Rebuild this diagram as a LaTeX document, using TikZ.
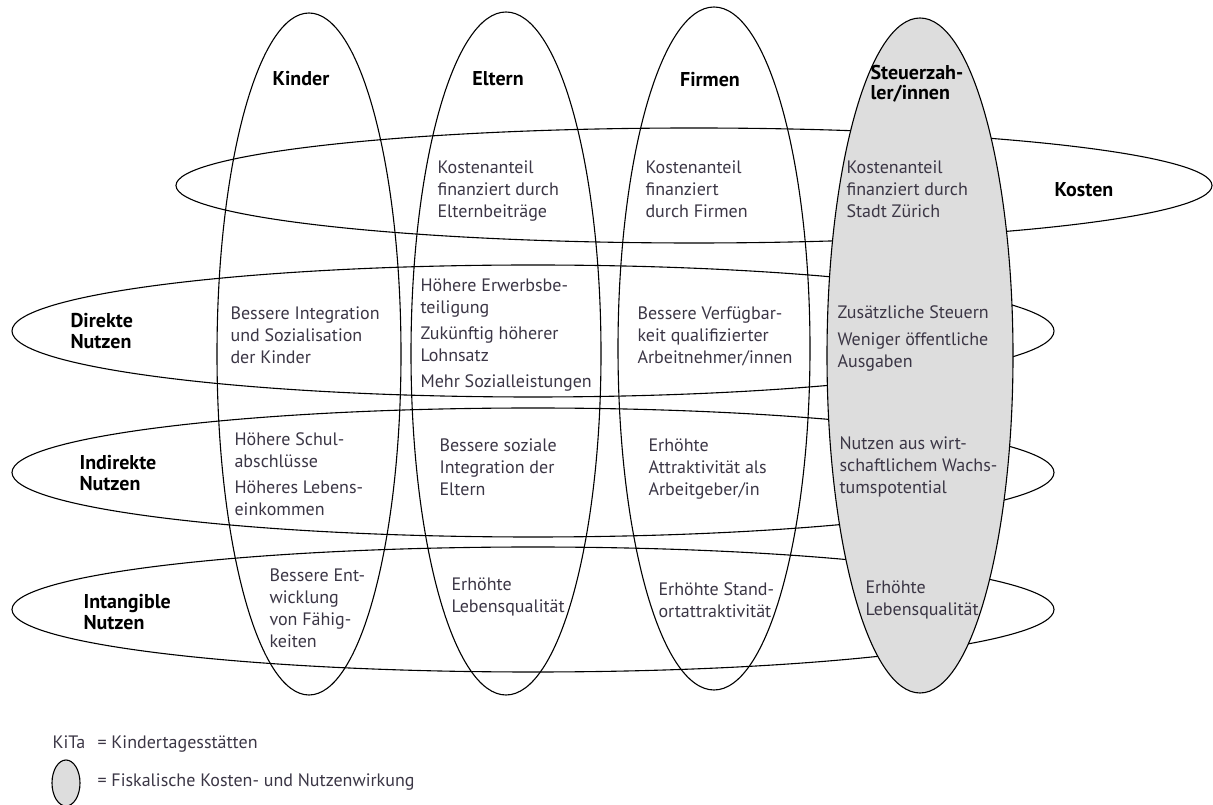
\documentclass[tikz,border=0pt]{standalone}
\usepackage{fontspec}
\setmainfont{PT Sans}
\usetikzlibrary{shapes.geometric}
\definecolor{fillcol}{rgb}{0.867,0.867,0.867}
\definecolor{textcol}{rgb}{0.23,0.21,0.27}
\begin{document}
\begin{tikzpicture}[line join=bevel,
    ring/.style={draw=black,ellipse,inner sep=0pt},
    fiscal/.style={ring,fill=fillcol},
    cell/.style={anchor=north west,inner sep=0pt,align=left,text=textcol,
      font=\fontsize{18bp}{22bp}\selectfont},
    head/.style={inner sep=0pt,align=left,text=black,
      font=\fontsize{20bp}{21bp}\selectfont\bfseries},
    legend/.style={anchor=base west,inner sep=0pt,text=textcol,
      font=\fontsize{18bp}{22bp}\selectfont},
  ]
  \pgfsetlinewidth{1.1bp}
  \useasboundingbox (0bp,0bp) rectangle (1213bp,805bp);
  %%
  % Node: kosten
  \node[ring,minimum width=1036bp,minimum height=115bp] (kosten) at (694bp,619.5bp) {};
  % Node: direkt
  \node[ring,minimum width=1042bp,minimum height=132bp] (direkt) at (533bp,474bp) {};
  % Node: indirekt
  \node[ring,minimum width=1042bp,minimum height=129bp] (indirekt) at (533bp,332.5bp) {};
  % Node: intang
  \node[ring,minimum width=1042bp,minimum height=125bp] (intang) at (533bp,195.5bp) {};
  % Node: kinder
  \node[ring,minimum width=184bp,minimum height=682bp] (kinder) at (309bp,451bp) {};
  % Node: eltern
  \node[ring,minimum width=190bp,minimum height=683bp] (eltern) at (506bp,451.5bp) {};
  % Node: firmen
  \node[ring,minimum width=192bp,minimum height=683bp] (firmen) at (714bp,456.5bp) {};
  % Node: steuer
  \node[fiscal,minimum width=186bp,minimum height=675bp] (steuer) at (920bp,449.5bp) {};
  %%
  % Headings
  \node[head] (hkinder) at (301bp,726bp) {Kinder};
  \node[head] (heltern) at (498bp,726bp) {Eltern};
  \node[head] (hfirmen) at (710bp,725bp) {Firmen};
  \node[head,anchor=north west,font=\fontsize{20bp}{20bp}\selectfont\bfseries] (hsteuer) at (870bp,740bp) {Steuerzah-\\ler/innen};
  \node[head] (hkosten) at (1084bp,615bp) {Kosten};
  \node[head,anchor=north west] (hdirekt) at (70bp,492bp) {Direkte\\Nutzen};
  \node[head,anchor=north west] (hindirekt) at (79bp,350bp) {Indirekte\\Nutzen};
  \node[head,anchor=north west] (hintang) at (83bp,211bp) {Intangible\\Nutzen};
  %%
  % Row: Kosten
  \node[cell] (eltkost) at (437bp,645bp) {Kostenanteil\\finanziert durch\\Elternbeiträge};
  \node[cell] (firkost) at (645bp,645bp) {Kostenanteil\\finanziert\\durch Firmen};
  \node[cell] (stkost) at (846bp,645bp) {Kostenanteil\\finanziert durch\\Stadt Zürich};
  % Row: Direkte Nutzen
  \node[cell] (kindir) at (230bp,499bp) {Bessere Integration\\und Sozialisation\\der Kinder};
  \node[cell] (eltdir) at (420bp,527bp) {Höhere Erwerbsbe-\\teiligung\\[4bp]Zukünftig höherer\\Lohnsatz\\[4bp]Mehr Sozialleistungen};
  \node[cell] (firdir) at (637bp,499bp) {Bessere Verfügbar-\\keit qualifizierter\\Arbeitnehmer/innen};
  \node[cell] (stdir) at (837bp,500bp) {Zusätzliche Steuern\\[5bp]Weniger öffentliche\\Ausgaben};
  % Row: Indirekte Nutzen
  \node[cell] (kinind) at (234bp,373bp) {Höhere Schul-\\abschlüsse\\[4bp]Höheres Lebens-\\einkommen};
  \node[cell] (eltind) at (439bp,367bp) {Bessere soziale\\Integration der\\Eltern};
  \node[cell] (firind) at (648bp,367bp) {Erhöhte\\Attraktivität als\\Arbeitgeber/in};
  \node[cell] (stind) at (839bp,369bp) {Nutzen aus wirt-\\schaftlichem Wachs-\\tumspotential};
  % Row: Intangible Nutzen
  \node[cell] (kinint) at (269bp,237bp) {Bessere Ent-\\wicklung\\von Fähig-\\keiten};
  \node[cell] (eltint) at (451bp,228bp) {Erhöhte\\Lebensqualität};
  \node[cell] (firint) at (658bp,223bp) {Erhöhte Stand-\\ortattraktivität};
  \node[cell] (stint) at (865bp,225bp) {Erhöhte\\Lebensqualität};
  %%
  % Legend
  \node[legend] (kita) at (52bp,56bp) {KiTa};
  \node[legend] (kitatxt) at (97bp,56bp) {= Kindertagesstätten};
  \node[fiscal,minimum width=28bp,minimum height=46bp] (legell) at (66bp,22bp) {};
  \node[legend] (fisktxt) at (97bp,19bp) {= Fiskalische Kosten- und Nutzenwirkung};
  %
\end{tikzpicture}
\end{document}
